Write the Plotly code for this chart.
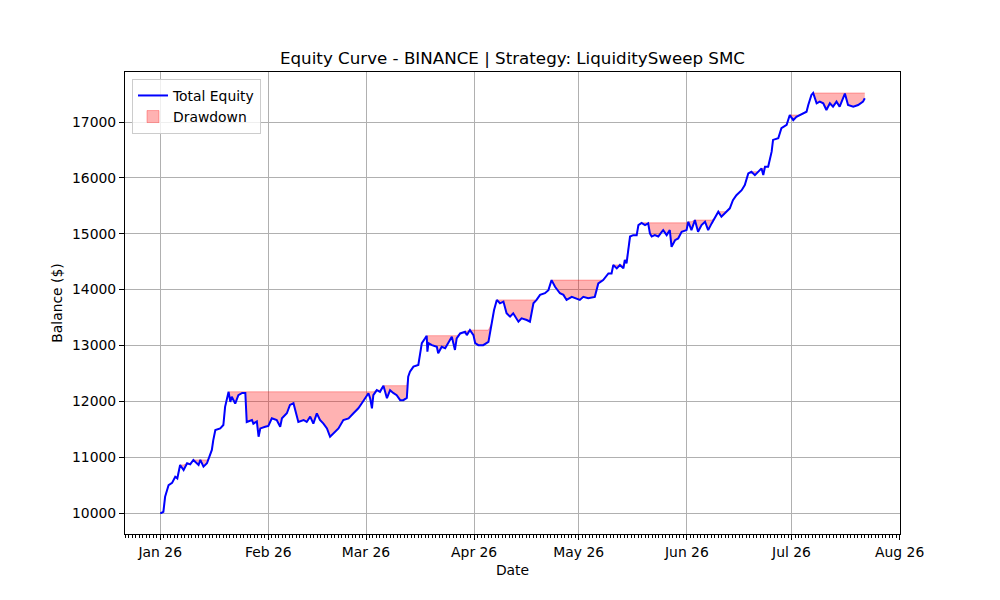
import datetime as dt
import numpy as np
import plotly.graph_objects as go

start_date = dt.datetime(2026, 1, 1)

day_offsets = [
    0, 0.3, 0.9, 1.4, 2.4, 3.4, 4.3, 4.9, 5.7, 6.7, 7.7, 8.6, 9.5, 10.3, 11.0, 11.5, 12.4, 13.4, 14.0, 14.8,
    15.2, 15.8, 17.2, 18.1, 18.6, 19.6, 20.1, 20.5, 21.5, 22.4, 23.5, 24.4, 24.8, 26.3, 26.7, 27.7, 28.2, 28.7,
    30.1, 31.0, 32.0, 33.4, 34.4, 34.9, 36.3, 37.2, 38.2, 38.7, 39.6, 41.1, 42.0, 43.0, 43.9, 44.9, 45.8, 46.8,
    47.8, 48.7, 50.1, 51.1, 52.5, 54.0, 55.4, 56.8, 57.8, 58.7, 59.7, 60.2, 60.7, 61.1, 62.1, 63.0, 64.0, 65.0,
    65.9, 66.8, 67.8, 68.8, 69.7, 70.7, 71.1, 71.6, 72.6, 74.0, 75.0, 75.9, 76.4, 76.6, 76.9, 77.9, 79.3, 79.7,
    80.7, 81.7, 82.6, 83.6, 84.5, 85.0, 86.0, 87.4, 87.9, 88.8, 89.8, 90.3, 91.2, 92.6, 94.1, 95.0, 95.7, 96.5,
    97.4, 98.4, 99.3, 100.3, 101.2, 102.7, 103.6, 105.1, 106.0, 107.0, 107.9, 108.9, 110.3, 111.3, 112.2, 113.2,
    114.6, 115.6, 116.5, 118.0, 118.9, 120.3, 121.3, 122.7, 124.6, 125.6, 127.0, 128.5, 129.4, 129.9, 130.9,
    131.8, 132.8, 133.2, 133.7, 134.7, 135.6, 136.6, 137.1, 138.0, 139.0, 139.9, 140.4, 140.9, 141.8, 142.8,
    143.8, 144.2, 145.2, 146.1, 146.6, 147.6, 148.5, 149.5, 150.9, 151.4, 152.3, 153.3, 154.2, 155.2, 156.2,
    157.1, 158.1, 159.0, 160.0, 160.9, 162.4, 163.3, 164.2, 165.2, 166.7, 167.6, 168.6, 169.5, 170.5, 171.4,
    172.4, 172.9, 173.4, 174.3, 175.3, 175.7, 177.2, 178.1, 179.6, 180.5, 181.5, 182.4, 183.4, 184.3, 185.3,
    185.8, 186.7, 187.2, 188.2, 189.1, 190.1, 191.0, 192.0, 192.9, 193.9, 194.8, 196.3, 197.2, 198.7, 200.1,
    201.5, 202.0,
]

equity = [
    10000, 10000, 10020, 10290, 10500, 10540, 10650, 10620, 10860, 10770, 10890, 10870, 10950, 10900, 10860, 10950, 10830, 10890, 10980, 11130,
    11300, 11485, 11515, 11575, 11900, 12170, 11990, 12080, 11960, 12110, 12150, 12150, 11630, 11665, 11600, 11640, 11365, 11515,
    11545, 11560, 11695, 11665, 11545, 11695, 11785, 11935, 11965, 11845, 11630, 11665, 11630, 11725, 11600, 11785, 11665, 11600,
    11515, 11365, 11455, 11515, 11665, 11695, 11785, 11875, 11965, 12055, 12145, 12050, 11875, 12110, 12200, 12170, 12280, 12055,
    12200, 12150, 12110, 12020, 12020, 12060, 12440, 12530, 12620, 12650, 13040, 13125, 13175, 12890, 13040, 13005, 12975, 12860,
    12975, 12950, 13040, 13155, 12920, 13125, 13215, 13245, 13185, 13275, 13185, 13040, 13005, 13005, 13065, 13395, 13630, 13815,
    13755, 13785, 13575, 13515, 13575, 13425, 13485, 13455, 13425, 13755, 13815, 13905, 13935, 13990, 14170, 14050,
    13935, 13905, 13815, 13870, 13845, 13815, 13870, 13845, 13870, 14110, 14170, 14290, 14290, 14440, 14380,
    14440, 14380, 14530, 14470, 14950, 14975, 14975, 15155, 15195, 15155, 15185, 15005, 14950, 14975, 14950,
    15035, 15065, 14975, 15065, 14765, 14885, 14915, 15035, 15065, 15215, 15065, 15245, 15035, 15155, 15215,
    15065, 15185, 15275, 15395, 15305, 15395, 15455, 15600, 15690, 15780, 15870, 16080, 16110, 16050, 16110,
    16170, 16050, 16200, 16200, 16470, 16680, 16710, 16890, 16950, 17125, 17035, 17095, 17125, 17155, 17185,
    17305, 17485, 17520, 17335, 17365, 17335, 17215, 17335, 17275, 17365, 17275, 17510, 17305, 17275, 17305,
    17365, 17425,
]

dates = [start_date + dt.timedelta(days=d) for d in day_offsets]
eq = np.array(equity, dtype=float)
peak = np.maximum.accumulate(eq)

# matplotlib-style 5% margins
span = (dates[-1] - dates[0])
xmin = dates[0] - span * 0.05
xmax = dates[-1] + span * 0.05
yr = eq.max() - eq.min()
ymin = eq.min() - 0.05 * yr
ymax = eq.max() + 0.05 * yr

FONT = "DejaVu Sans"
DD_COLOR = "rgba(255,0,0,0.3)"

fig = go.Figure()
fig.add_trace(go.Scatter(
    x=dates, y=peak, mode="lines",
    line=dict(color=DD_COLOR, width=1),
    showlegend=False, hoverinfo="skip",
))
fig.add_trace(go.Scatter(
    x=dates, y=eq, mode="lines", name="Drawdown",
    line=dict(width=0, color=DD_COLOR),
    fill="tonexty", fillcolor=DD_COLOR,
    showlegend=False,
))
fig.add_trace(go.Scatter(
    x=dates, y=eq, mode="lines", name="Total Equity",
    line=dict(color="#0000ff", width=2),
))
# legend-only patch for the drawdown area
fig.add_trace(go.Bar(
    x=[None], y=[None], name="Drawdown",
    marker=dict(color=DD_COLOR, line=dict(color=DD_COLOR, width=1)),
    showlegend=True, hoverinfo="skip",
))

axis_common = dict(
    showline=True, linecolor="black", linewidth=1, mirror=True,
    showgrid=True, gridcolor="#b0b0b0", gridwidth=1,
    ticks="outside", ticklen=5, tickcolor="black", tickwidth=1,
    zeroline=False,
    tickfont=dict(family=FONT, size=13.9, color="black"),
)

fig.update_layout(
    width=1000, height=600,
    paper_bgcolor="white", plot_bgcolor="white",
    margin=dict(l=125, r=100, t=72, b=66),
    font=dict(family=FONT, size=13.9, color="black"),
    title=dict(
        text="Equity Curve - BINANCE | Strategy: LiquiditySweep SMC",
        x=0.5, xref="paper", y=1 - 58 / 600, yref="container",
        xanchor="center", yanchor="middle",
        font=dict(family=FONT, size=16.7, color="black"),
    ),
    xaxis=dict(
        **axis_common,
        type="date", range=[xmin, xmax],
        dtick="M1", tick0="2026-01-01", tickformat="%b %y",
        minor=dict(dtick=86400000, ticks="outside", ticklen=3, tickcolor="black", showgrid=False),
        title=dict(text="Date", font=dict(family=FONT, size=13.9), standoff=6),
    ),
    yaxis=dict(
        **axis_common,
        range=[ymin, ymax], dtick=1000, tick0=10000, tickformat="d",
        title=dict(text="Balance ($)", font=dict(family=FONT, size=13.9), standoff=6),
    ),
    legend=dict(
        x=0.009, y=0.985, xanchor="left", yanchor="top",
        traceorder="normal",
        bgcolor="rgba(255,255,255,0.8)", bordercolor="#cccccc", borderwidth=1,
        font=dict(family=FONT, size=13.9, color="black"),
        tracegroupgap=0, itemwidth=30,
    ),
    showlegend=True,
)

fig.write_html("out.html")
